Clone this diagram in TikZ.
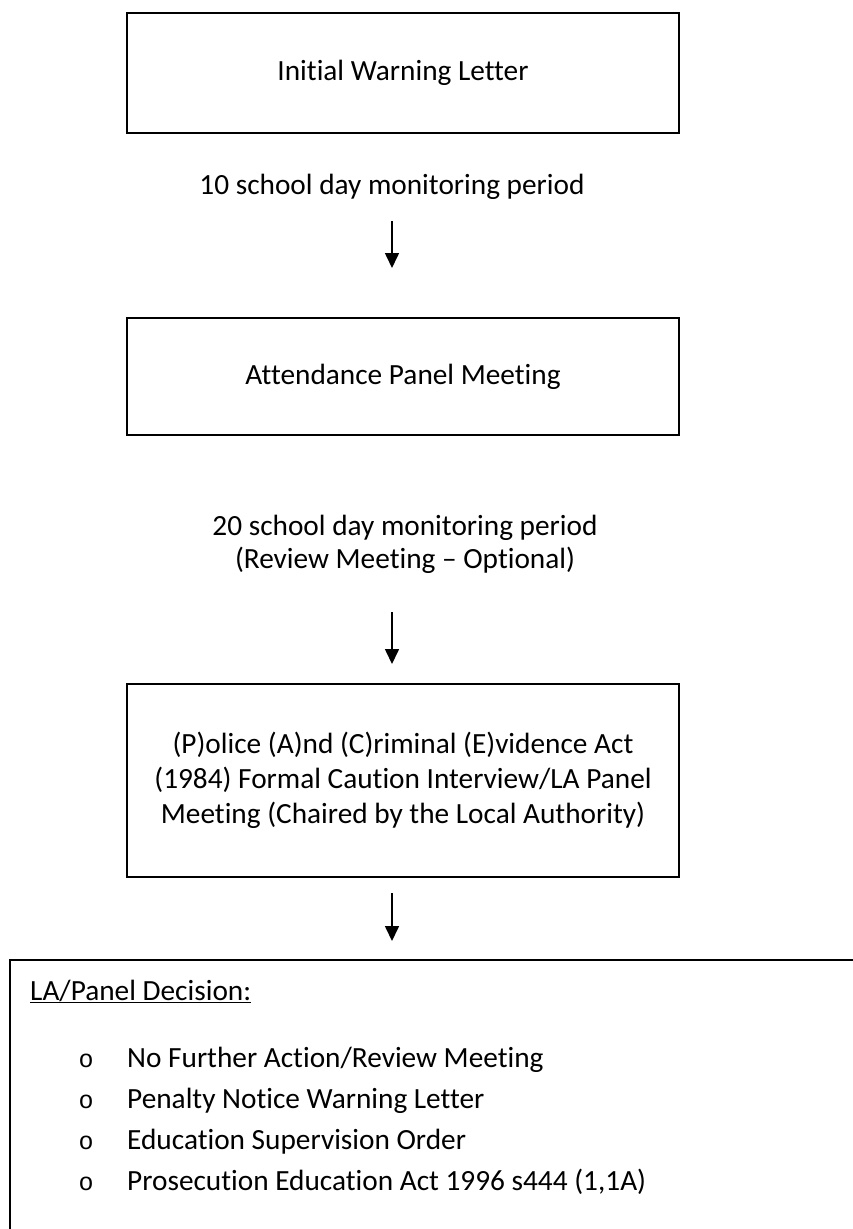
\documentclass[tikz,border=0pt]{standalone}
\usepackage{fontspec}
\setmainfont[Ligatures=CommonOff]{Carlito}
\newfontfamily\bulletfont{Liberation Mono}
\usetikzlibrary{arrows.meta}

\tikzset{
  stage/.style={draw, line width=2.4pt, minimum width=552pt, inner sep=0pt},
  flow/.style={line width=1.6pt, -{Triangle[width=14pt,length=15pt]}},
  option/.style={anchor=base west, inner sep=0pt},
  bullet/.style={anchor=base, inner sep=0pt, font=\bulletfont\fontsize{25}{25}\selectfont},
}

\begin{document}
\begin{tikzpicture}[x=1pt, y=-1pt, font=\fontsize{29.3}{35}\selectfont]
\useasboundingbox (0,0) rectangle (853,1229);
\clip (0,0) rectangle (853,1229);

% first two steps
\node[stage, minimum height=120pt] (warning) at (403,73) {Initial Warning Letter};
\node (period1) at (392,187) {10 school day monitoring period};
\coordinate (a1from) at (392,221);
\coordinate (a1to) at (392,268);
\draw[flow] (a1from) -- (a1to);

\node[stage, minimum height=117pt] (panel) at (403,376.5) {Attendance Panel Meeting};
\node[align=center, font=\fontsize{29.3}{33}\selectfont] (period2) at (405,544.5)
  {20 school day monitoring period\\(Review Meeting – Optional)};
\coordinate (a2from) at (392,612);
\coordinate (a2to) at (392,664);
\draw[flow] (a2from) -- (a2to);

% PACE interview
\node[stage, minimum height=193pt, align=center] (pace) at (403,780.5)
  {(P)olice (A)nd (C)riminal (E)vidence Act\\(1984) Formal Caution Interview/LA Panel\\Meeting (Chaired by the Local Authority)};
\coordinate (a3from) at (392,893);
\coordinate (a3to) at (392,941);
\draw[flow] (a3from) -- (a3to);

% decision box, runs off the page
\node[draw, line width=2.4pt, anchor=north west, minimum width=900pt, minimum height=320pt] (decision) at (9,959) {};
\node[option] (dechead) at (30,1000) {\underline{LA/Panel Decision:}};

\node[bullet] (b1) at (86,1067) {o};
\node[option] (opt1) at (127,1067) {No Further Action/Review Meeting};
\node[bullet] (b2) at (86,1108) {o};
\node[option] (opt2) at (127,1108) {Penalty Notice Warning Letter};
\node[bullet] (b3) at (86,1149) {o};
\node[option] (opt3) at (127,1149) {Education Supervision Order};
\node[bullet] (b4) at (86,1190) {o};
\node[option] (opt4) at (127,1190) {Prosecution Education Act 1996 s444 (1,1A)};

\end{tikzpicture}
\end{document}
